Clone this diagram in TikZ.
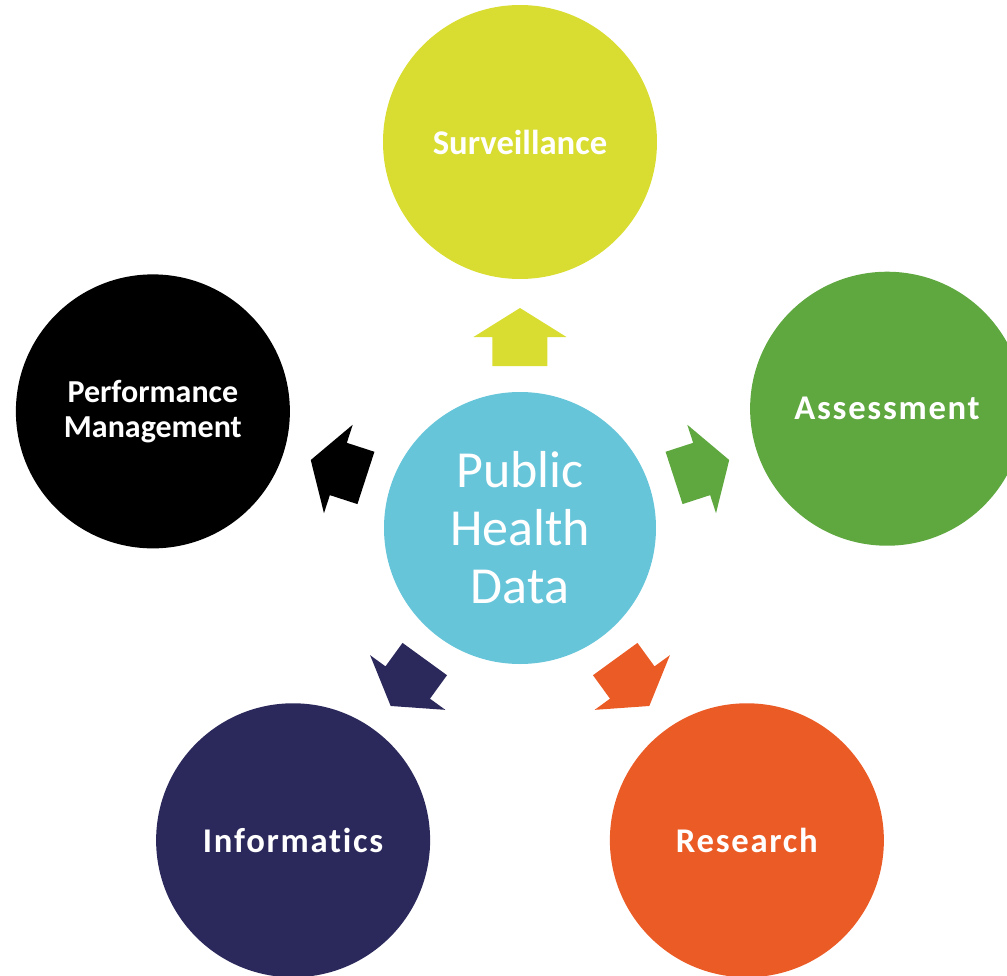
\documentclass[tikz,border=0pt]{standalone}
\usepackage{fontspec}
\setmainfont{Carlito}[Ligatures=NoCommon]
\newfontfamily\spacedfont{Carlito}[Ligatures=NoCommon,LetterSpace=5]
\definecolor{cSurv}{HTML}{D9DD31}
\definecolor{cAssess}{HTML}{5FA73F}
\definecolor{cRes}{HTML}{EB5B26}
\definecolor{cInf}{HTML}{2B295B}
\definecolor{cPerf}{HTML}{000000}
\definecolor{cCenter}{HTML}{67C5DA}
\begin{document}
\begin{tikzpicture}[x=0.75pt,y=0.75pt,
  bubble/.style={circle,minimum size=274*0.75pt,inner sep=0pt,text=white,align=center,
    font=\fontsize{26}{26}\selectfont\bfseries},
  spacedbubble/.style={bubble,font=\spacedfont\fontsize{26}{26}\selectfont\bfseries},
  centerbubble/.style={circle,minimum size=272*0.75pt,inner sep=0pt,fill=cCenter,text=white,align=center,
    font=\fontsize{39}{43.5}\selectfont},
  blockarrow/.style={draw=none}]
\useasboundingbox (-520,-447) rectangle (487,528);
\clip (-520,-447) rectangle (487,528);
\node[centerbubble] (c) at (0,0) {Public\\Health\\Data};
\node[bubble,fill=cSurv] (surv) at (90:386) {Surveillance};
\node[spacedbubble,fill=cAssess] (assess) at (18:386) {Assessment};
\node[spacedbubble,fill=cRes] (res) at (-54:386) {Research};
\node[spacedbubble,fill=cInf] (inf) at (-126:386) {Informatics};
\node[bubble,fill=cPerf,font=\fontsize{24}{26}\selectfont\bfseries,yshift=-2] (perf) at (162:386) {Performance\\Management};
\foreach \ang/\col in {90/cSurv,18/cAssess,-54/cRes,-126/cInf,162/cPerf}{
  \begin{scope}[shift={(c.center)},rotate=\ang]
    \fill[\col] (162,-27.5) -- (191,-27.5) -- (191,-46.5) -- (220,0) -- (191,46.5) -- (191,27.5) -- (162,27.5) -- cycle;
  \end{scope}
}
\end{tikzpicture}
\end{document}
